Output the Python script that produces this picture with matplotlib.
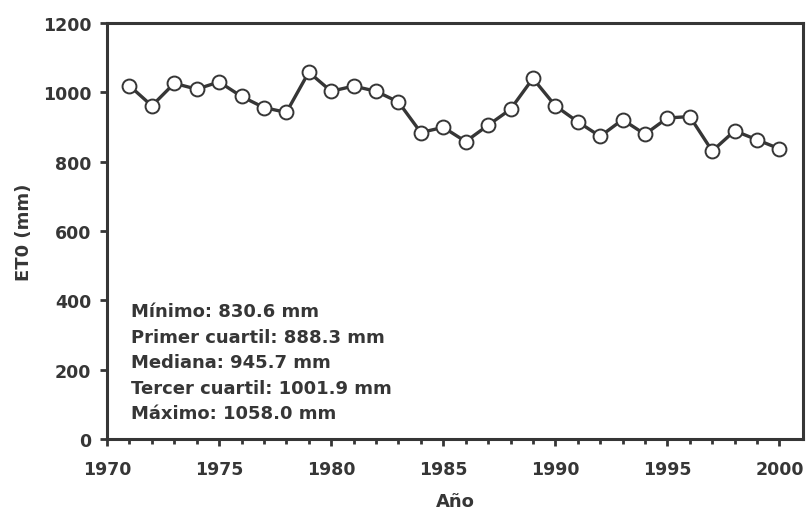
import matplotlib.pyplot as plt
from matplotlib.ticker import MultipleLocator, FixedLocator

# annual reference evapotranspiration
years = list(range(1971, 2001))
et0 = [1019, 961, 1026, 1009, 1030, 988, 956, 942, 1058, 1003,
       1018, 1003, 972, 884, 899, 858, 905, 951, 1040, 961,
       915, 873, 921, 879, 926, 930, 830.6, 889, 863, 837]

stat_names = ['Mínimo', 'Primer cuartil', 'Mediana', 'Tercer cuartil', 'Máximo']
stat_values = [830.6, 888.3, 945.7, 1001.9, 1058.0]

dark = '#363636'
plt.rcParams['font.family'] = 'DejaVu Sans'
plt.rcParams['font.weight'] = 'bold'

fig = plt.figure(figsize=(8.06, 5.10), dpi=100)
ax = fig.add_axes([0.1328, 0.1373, 0.8635, 0.8157])

ax.plot(years, et0, color=dark, lw=2.4, marker='o', ms=10,
        mfc='white', mec=dark, mew=1.4, clip_on=False, zorder=3)

ax.set_xlim(1970, 2001.05)
ax.set_ylim(0, 1200)
ax.xaxis.set_major_locator(FixedLocator([1970, 1975, 1980, 1985, 1990, 1995, 2000]))
ax.xaxis.set_minor_locator(FixedLocator(list(range(1970, 2001))))
ax.yaxis.set_major_locator(MultipleLocator(200))

for s in ax.spines.values():
    s.set_linewidth(2.2)
    s.set_color(dark)

ax.tick_params(axis='both', which='major', length=5, width=2, color=dark,
               labelsize=12.5, labelcolor=dark)
ax.tick_params(axis='y', which='major', pad=6.5)
ax.tick_params(axis='x', which='major', pad=10)
ax.tick_params(axis='x', which='minor', length=3.5, width=2, color=dark)

for lab in ax.get_xticklabels() + ax.get_yticklabels():
    lab.set_fontweight('bold')

ax.set_xlabel('Año', fontsize=13, fontweight='bold', color=dark, labelpad=10)
ax.set_ylabel('ET0 (mm)', fontsize=13, fontweight='bold', color=dark, labelpad=7)

for i, (name, val) in enumerate(zip(stat_names, stat_values)):
    ax.text(0.0345, 0.307 - i * 0.0613, f'{name}: {val:.1f} mm',
            transform=ax.transAxes, fontsize=13, fontweight='bold',
            color=dark, va='center', ha='left')

plt.savefig('out.png', dpi=100)
